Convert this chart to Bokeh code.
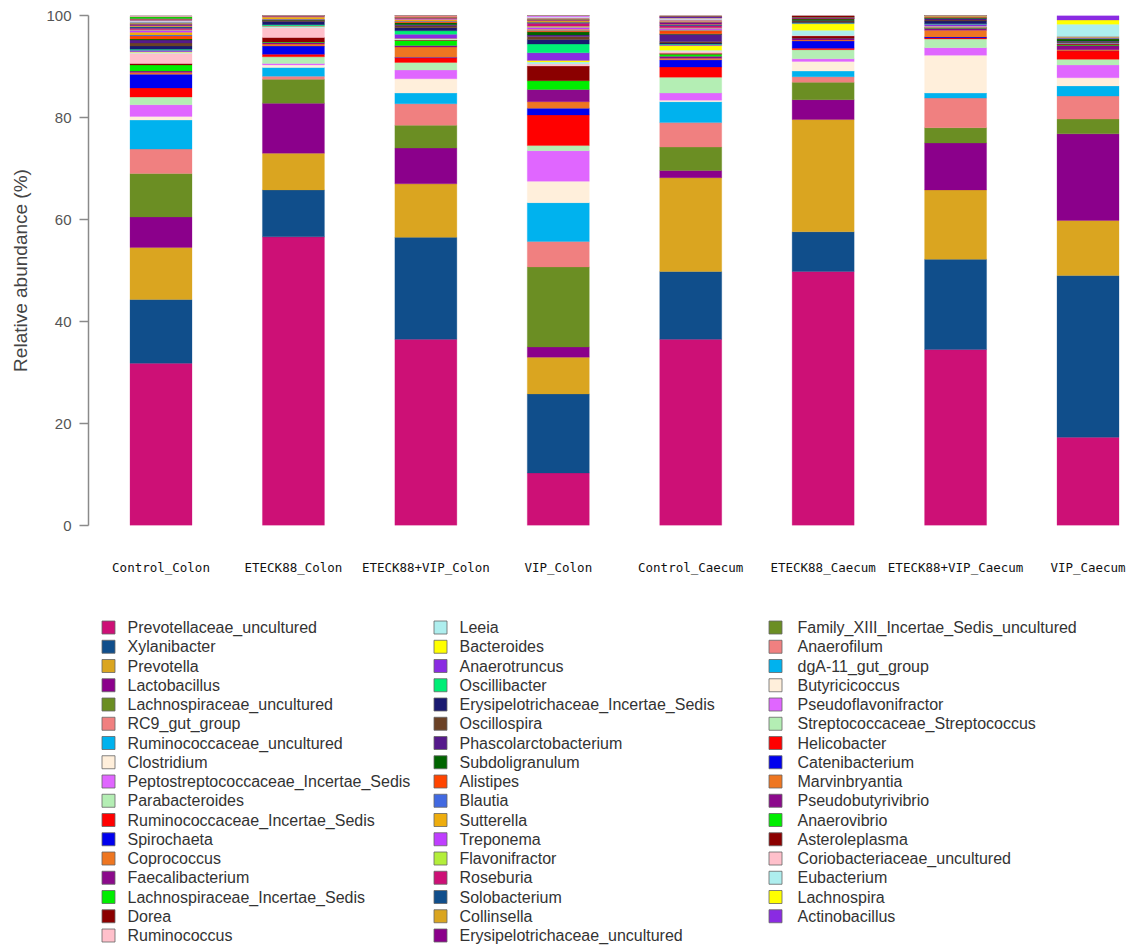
from bokeh.plotting import figure
from bokeh.models import Range1d, FixedTicker, ColumnDataSource
from bokeh.layouts import column
from bokeh.embed import file_html
from bokeh.resources import INLINE
from bokeh.core.properties import value

samples = ["Control_Colon", "ETECK88_Colon", "ETECK88+VIP_Colon", "VIP_Colon",
           "Control_Caecum", "ETECK88_Caecum", "ETECK88+VIP_Caecum", "VIP_Caecum"]

genera = [
    "Prevotellaceae_uncultured", "Xylanibacter", "Prevotella", "Lactobacillus",
    "Lachnospiraceae_uncultured", "RC9_gut_group", "Ruminococcaceae_uncultured",
    "Clostridium", "Peptostreptococcaceae_Incertae_Sedis", "Parabacteroides",
    "Ruminococcaceae_Incertae_Sedis", "Spirochaeta", "Coprococcus", "Faecalibacterium",
    "Lachnospiraceae_Incertae_Sedis", "Dorea", "Ruminococcus",
    "Leeia", "Bacteroides", "Anaerotruncus", "Oscillibacter",
    "Erysipelotrichaceae_Incertae_Sedis", "Oscillospira", "Phascolarctobacterium",
    "Subdoligranulum", "Alistipes", "Blautia", "Sutterella", "Treponema",
    "Flavonifractor", "Roseburia", "Solobacterium", "Collinsella",
    "Erysipelotrichaceae_uncultured",
    "Family_XIII_Incertae_Sedis_uncultured", "Anaerofilum", "dgA-11_gut_group",
    "Butyricicoccus", "Pseudoflavonifractor", "Streptococcaceae_Streptococcus",
    "Helicobacter", "Catenibacterium", "Marvinbryantia", "Pseudobutyrivibrio",
    "Anaerovibrio", "Asteroleplasma", "Coriobacteriaceae_uncultured", "Eubacterium",
    "Lachnospira", "Actinobacillus",
]

palette30 = [
    "#CD1076", "#104E8B", "#DAA520", "#8B008B", "#6B8E23", "#F08080", "#00B2EE",
    "#FFEFDB", "#E066FF", "#B4EEB4", "#FF0000", "#0000EE", "#EE7621", "#8B0A8B",
    "#00EE00", "#8B0000", "#FFC0CB", "#AEEEEE", "#FFFF00", "#8A2BE2", "#00EE76",
    "#191970", "#6B4226", "#551A8B", "#006400", "#FF4500", "#4169E1", "#EEAD0E",
    "#BF3EFF", "#B3EE3A",
]

# relative abundance (%) per sample, in the order of `genera`
control_colon = [31.8, 12.5, 10.2, 6.0, 8.5, 4.8, 5.7, 0.7, 2.3, 1.5, 1.8, 2.7, 0.3, 0.3, 1.2, 0.3, 2.0,
                 0.2, 0.1, 0.3, 0.2, 0.6, 0.6, 0.6, 0.2, 0.6, 0.2, 0.5, 0.4, 0.1, 0.3, 0.3, 0.2, 0.3,
                 0.2, 0.2, 0.1, 0.1, 0.1, 0.1, 0.0, 0.1, 0.1, 0.1, 0.3, 0.1, 0.1, 0.1, 0.0, 0.0]
eteck88_colon = [56.6, 9.2, 7.2, 9.8, 4.7, 0.6, 1.7, 0.5, 0.3, 1.3, 0.5, 1.6, 0.4, 0.3, 0.1, 0.9, 1.9,
                 0.2, 0.1, 0.1, 0.2, 0.6, 0.1, 0.1, 0.1, 0.1, 0.1, 0.4, 0.0, 0.1, 0.1, 0.1, 0.0, 0.0,
                 0.0, 0.0, 0.0, 0.0, 0.0, 0.0, 0.0, 0.0, 0.0, 0.0, 0.0, 0.0, 0.0, 0.0, 0.0, 0.0]
eteck88_vip_colon = [36.5, 20.0, 10.5, 7.0, 4.5, 4.2, 2.1, 2.8, 1.7, 1.5, 0.9, 0.1, 2.0, 0.3, 1.0, 0.1, 0.1,
                     0.1, 0.1, 0.8, 0.7, 0.6, 0.4, 0.2, 0.4, 0.2, 0.1, 0.3, 0.1, 0.1, 0.1, 0.1, 0.1, 0.0,
                     0.0, 0.3, 0.0, 0.0, 0.0, 0.0, 0.0, 0.0, 0.0, 0.0, 0.0, 0.0, 0.0, 0.0, 0.0, 0.0]
vip_colon = [10.3, 15.5, 7.2, 2.0, 15.7, 5.0, 7.6, 4.2, 6.0, 1.0, 6.0, 1.3, 1.3, 2.4, 1.7, 2.9, 0.4,
             0.4, 0.3, 1.5, 1.7, 0.9, 0.6, 0.3, 0.6, 0.2, 0.1, 0.2, 0.4, 0.2, 0.6, 0.2, 0.3, 0.2,
             0.1, 0.2, 0.1, 0.1, 0.2, 0.1, 0.0, 0.0, 0.0, 0.0, 0.0, 0.0, 0.0, 0.0, 0.0, 0.0]
control_caecum = [36.5, 13.3, 18.4, 1.4, 4.6, 4.8, 4.1, 0.3, 1.4, 3.1, 2.0, 1.4, 0.3, 0.4, 0.4, 0.2, 0.4,
                  0.2, 0.9, 0.2, 0.1, 0.2, 0.3, 1.4, 0.1, 0.6, 0.1, 0.1, 0.3, 0.1, 0.4, 0.2, 0.1, 0.4,
                  0.1, 0.3, 0.1, 0.1, 0.1, 0.1, 0.1, 0.1, 0.1, 0.1, 0.0, 0.0, 0.1, 0.0, 0.0, 0.0]
eteck88_caecum = [49.8, 7.8, 22.0, 3.9, 3.4, 1.1, 1.1, 1.9, 0.5, 1.8, 0.3, 1.4, 0.2, 0.4, 0.0, 0.4, 0.1,
                  1.0, 1.3, 0.1, 0.1, 0.1, 0.2, 0.1, 0.3, 0.1, 0.0, 0.0, 0.0, 0.0, 0.0, 0.0, 0.0, 0.3,
                  0.0, 0.0, 0.0, 0.0, 0.0, 0.0, 0.0, 0.0, 0.0, 0.0, 0.0, 0.3, 0.0, 0.0, 0.0, 0.0]
eteck88_vip_caecum = [34.5, 17.7, 13.6, 9.2, 3.0, 5.8, 1.0, 7.4, 1.5, 1.7, 0.2, 0.2, 1.3, 0.4, 0.1, 0.1, 0.1,
                      0.1, 0.0, 0.4, 0.1, 0.5, 0.2, 0.3, 0.2, 0.1, 0.1, 0.2, 0.0, 0.0, 0.0, 0.0, 0.0, 0.0,
                      0.0, 0.0, 0.0, 0.0, 0.0, 0.0, 0.0, 0.0, 0.0, 0.0, 0.0, 0.0, 0.0, 0.0, 0.0, 0.0]
vip_caecum = [17.3, 31.7, 10.8, 17.0, 2.9, 4.5, 2.0, 1.6, 2.5, 1.1, 1.7, 0.0, 0.2, 0.8, 0.1, 0.2, 0.1,
              0.0, 0.0, 0.1, 0.1, 0.0, 0.2, 0.1, 0.4, 0.1, 0.2, 0.1, 0.1, 0.0, 0.0, 0.0, 0.0, 0.0,
              0.0, 0.0, 0.0, 0.0, 0.0, 0.0, 0.0, 0.0, 0.0, 0.0, 0.0, 0.0, 0.0, 2.4, 0.8, 0.9]

sample_values = [control_colon, eteck88_colon, eteck88_vip_colon, vip_colon,
                 control_caecum, eteck88_caecum, eteck88_vip_caecum, vip_caecum]

colors = [palette30[i % 30] for i in range(len(genera))]

xs = list(range(1, len(samples) + 1))
data = {"x": xs}
for gi, g in enumerate(genera):
    data[g] = [vals[gi] for vals in sample_values]
source = ColumnDataSource(data)

W = 1130
LEFT = 88

# ---------------- main chart ----------------
p = figure(width=W, height=600, output_backend="svg", toolbar_location=None,
           x_range=Range1d(0.4525, 8.3208), y_range=Range1d(0, 100),
           min_border_left=LEFT, min_border_right=0, min_border_top=15, min_border_bottom=75)
p.outline_line_color = None
p.xgrid.visible = False
p.ygrid.visible = False
p.background_fill_color = "white"

p.vbar_stack(genera, x="x", width=0.468, source=source,
             fill_color=colors, line_color=colors, line_width=0.3)

yax = p.yaxis[0]
yax.ticker = FixedTicker(ticks=[0, 20, 40, 60, 80, 100])
yax.bounds = (0, 100)
yax.axis_line_color = "#8a8a8a"
yax.axis_line_width = 1.5
yax.major_tick_line_color = "#8a8a8a"
yax.major_tick_line_width = 1.5
yax.major_tick_out = 9
yax.major_tick_in = 0
yax.minor_tick_line_color = None
yax.major_label_standoff = 8
yax.major_label_text_font = "Liberation Sans"
yax.major_label_text_font_size = "15px"
yax.major_label_text_color = "#555555"
yax.axis_label = "Relative abundance (%)"
yax.axis_label_text_font = "Liberation Sans"
yax.axis_label_text_font_size = "19px"
yax.axis_label_text_font_style = "normal"
yax.axis_label_text_color = "#444444"
yax.axis_label_standoff = 12

xax = p.xaxis[0]
xax.ticker = FixedTicker(ticks=xs)
xax.major_label_overrides = {x: s for x, s in zip(xs, samples)}
xax.axis_line_color = None
xax.major_tick_line_color = None
xax.minor_tick_line_color = None
xax.major_tick_out = 0
xax.major_tick_in = 0
xax.major_label_standoff = 34
xax.major_label_text_font = "DejaVu Sans Mono"
xax.major_label_text_font_size = "12.5px"
xax.major_label_text_color = "#111111"

# ---------------- legend (three columns) ----------------
per_col = 17
sq_x = [108, 440, 775]
tx_x = [127, 459, 797]
leg = {"sx": [], "tx": [], "y": [], "label": [], "color": []}
for i, g in enumerate(genera):
    c, r = divmod(i, per_col)
    leg["sx"].append(sq_x[c])
    leg["tx"].append(tx_x[c])
    leg["y"].append(27 + 19.25 * r)
    leg["label"].append(g)
    leg["color"].append(colors[i])
leg_src = ColumnDataSource(leg)

H2 = 346
p2 = figure(width=W, height=H2, output_backend="svg", toolbar_location=None,
            x_range=Range1d(LEFT, W), y_range=Range1d(H2, 0),
            x_axis_location=None, y_axis_location=None,
            min_border_left=LEFT, min_border_right=0, min_border_top=0, min_border_bottom=0)
p2.grid.visible = False
p2.outline_line_color = None
p2.scatter(x="sx", y="y", marker="square", size=13, fill_color="color",
           line_color="#666666", line_width=0.8, source=leg_src)
p2.text(x="tx", y="y", text="label", source=leg_src, text_baseline="middle",
        text_align="left", text_font=value("Liberation Sans"), text_font_size="16px",
        text_color="#333333")

layout = column(p, p2, spacing=0)
open("out.html", "w").write(file_html(layout, INLINE))
